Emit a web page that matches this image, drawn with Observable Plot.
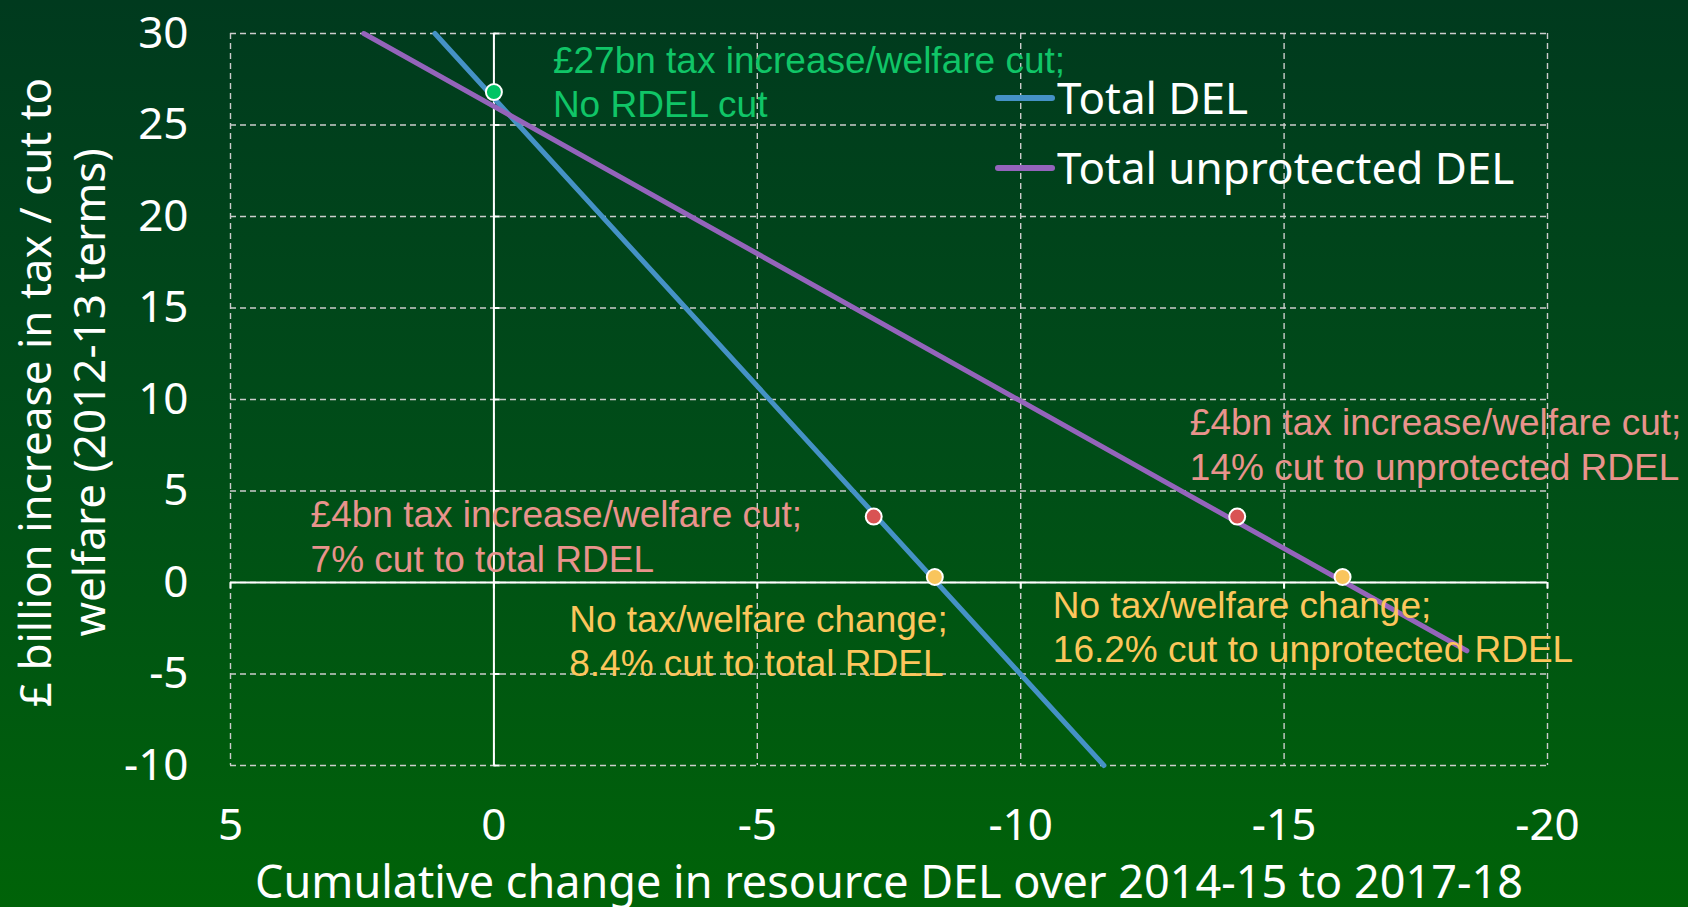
<!DOCTYPE html>
<html><head><meta charset="utf-8">
<script src="https://cdn.jsdelivr.net/npm/d3@7"></script>
<script src="https://cdn.jsdelivr.net/npm/@observablehq/plot@0.6"></script>
<style>
html,body{margin:0;padding:0;}
body{width:1688px;height:907px;overflow:hidden;background:linear-gradient(to bottom,#003a1e 0%,#004d18 50%,#006308 100%);}
#chart{position:relative;width:1688px;height:907px;}
</style></head><body><div id="chart"></div>
<script>
// ---- data ----
const xTicks = [5, 0, -5, -10, -15, -20];
const yTicks = [30, 25, 20, 15, 10, 5, 0, -5, -10];
const xTitle = "Cumulative change in resource DEL over 2014-15 to 2017-18";
const yTitle = "£ billion increase in tax / cut to\nwelfare (2012-13 terms)";
const seriesNames = ["Total DEL", "Total unprotected DEL"];
const seriesColors = ["#4592c6", "#9464bb"];
const totalDelX = [1.12, -11.58];
const totalDelY = [30, -10];
const unprotDelX = [2.47, -18.47];
const unprotDelY = [30, -3.73];
const pointX = [0, -7.21, -8.37, -14.11, -16.11];
const pointY = [26.8, 3.6, 0.3, 3.6, 0.3];
const pointColors = ["#00c464", "#d95353", "#f9c55c", "#d95353", "#f9c55c"];
const noteText = [
  "£27bn tax increase/welfare cut;\nNo RDEL cut",
  "£4bn tax increase/welfare cut;\n7% cut to total RDEL",
  "No tax/welfare change;\n8.4% cut to total RDEL",
  "£4bn tax increase/welfare cut;\n14% cut to unprotected RDEL",
  "No tax/welfare change;\n16.2% cut to unprotected RDEL"
];
const noteX = [-1.12, 3.48, -1.43, -13.21, -10.61];
const noteY = [27.4, 2.57, -3.12, 7.61, -2.35];
const noteColors = ["#10c567", "#e8938c", "#fcc65c", "#e8938c", "#fcc65c"];

// ---- derived tables ----
const totalLine = totalDelX.map((x, i) => ({x, y: totalDelY[i]}));
const unprotLine = unprotDelX.map((x, i) => ({x, y: unprotDelY[i]}));
const points = pointX.map((x, i) => ({x, y: pointY[i], c: pointColors[i]}));
const notes = noteText.map((t, i) => ({t, x: noteX[i], y: noteY[i], c: noteColors[i]}));

const gridStyle = {stroke: "#cccccc", strokeOpacity: 1, strokeDasharray: "6,4", strokeWidth: 1.4};

const plot = Plot.plot({
  width: 1688, height: 907,
  marginLeft: 230, marginRight: 141, marginTop: 33, marginBottom: 142,
  style: {background: "transparent", color: "white", fontFamily: "'Noto Sans', sans-serif", overflow: "visible"},
  x: {domain: [5, -20]},
  y: {domain: [-10, 30]},
  color: {type: "identity"},
  marks: [
    Plot.gridX(xTicks, gridStyle),
    Plot.gridY(yTicks, gridStyle),
    Plot.ruleX([0], {stroke: "white", strokeWidth: 2}),
    Plot.ruleY([0], {stroke: "white", strokeWidth: 2}),
    Plot.ruleY(yTicks, {y: d => d, x1: 0, x2: -0.12, stroke: "white", strokeWidth: 2}),
    Plot.ruleX(xTicks, {x: d => d, y1: 0, y2: -0.35, stroke: "white", strokeWidth: 2}),
    Plot.line(totalLine, {x: "x", y: "y", stroke: seriesColors[0], strokeWidth: 5}),
    Plot.line(unprotLine, {x: "x", y: "y", stroke: seriesColors[1], strokeWidth: 5}),
    Plot.dot(points, {x: "x", y: "y", fill: "c", r: 8, stroke: "white", strokeWidth: 2}),
    Plot.text(notes, {x: "x", y: "y", text: "t", fill: "c", textAnchor: "start", lineAnchor: "middle",
      lineHeight: 1.2, fontSize: 37, fontFamily: "'Liberation Sans', Arial, sans-serif"}),
    Plot.axisX(xTicks, {tickSize: 0, tickPadding: 43, fontSize: 44, tickFormat: d => String(d), label: null}),
    Plot.axisY(yTicks, {tickSize: 0, tickPadding: 42, fontSize: 44, tickFormat: d => String(d), label: null}),
    Plot.text([xTitle], {text: d => d, frameAnchor: "bottom", dy: 118, fontSize: 45, lineAnchor: "middle", fill: "white"}),
    Plot.text([yTitle], {text: d => d, frameAnchor: "left", rotate: -90, dx: -170, dy: -7, fontSize: 44,
      lineHeight: 1.23, lineAnchor: "middle", textAnchor: "middle", fill: "white"})
  ]
});
document.getElementById("chart").appendChild(plot);

// ---- legend (inside the plot, top right) ----
const svg = d3.select(plot);
const lg = svg.append("g").attr("font-family", "'Noto Sans', sans-serif").attr("font-size", 44)
  .attr("fill", "white").attr("text-anchor", "start");
seriesNames.forEach((name, i) => {
  const cy = 98 + i * 70;
  lg.append("line").attr("x1", 998).attr("x2", 1052).attr("y1", cy).attr("y2", cy)
    .attr("stroke", seriesColors[i]).attr("stroke-width", 6).attr("stroke-linecap", "round");
  lg.append("text").attr("x", 1057).attr("y", cy + 15.5).attr("text-anchor", "start").text(name);
});
</script></body></html>
